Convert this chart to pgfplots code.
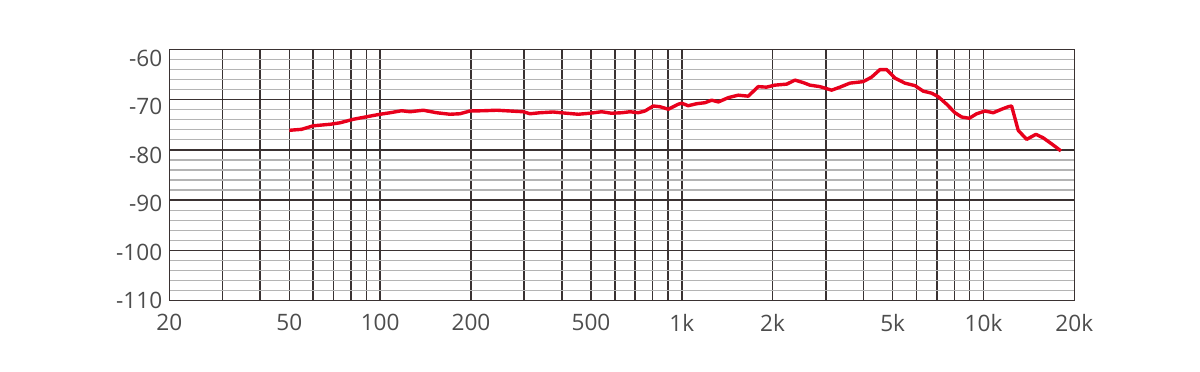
\documentclass[border=0pt]{standalone}
\usepackage{fontspec}
\setmainfont{Open Sans}
\usepackage{pgfplots}
\pgfplotsset{compat=1.18}
\usetikzlibrary{calc}
\definecolor{gridc}{HTML}{3A3232}
\definecolor{minc}{HTML}{B4B4B4}
\definecolor{txt}{HTML}{4D4D4D}
\definecolor{curve}{HTML}{E8001C}
\begin{document}
\begin{tikzpicture}
\begin{axis}[name=ax, scale only axis, width=452.5pt, height=125.5pt,
 xmode=log, xmin=20, xmax=20000, ymin=-110, ymax=-60,
 xtick={20,30,40,50,60,70,80,90,100,200,300,400,500,600,700,800,900,1000,2000,3000,4000,5000,6000,7000,8000,9000,10000,20000},
 xticklabels={20,,,50,,,,,100,200,,,500,,,,,1k,2k,,,5k,,,,,10k,20k},
 ytick={-110,-100,-90,-80,-70,-60},
 yticklabels={-110,-100,-90,-80,-70,-60},
 minor y tick num=4,
 xmajorgrids, ymajorgrids, yminorgrids,
 major grid style={gridc, line width=0.75pt},
 minor grid style={minc, line width=0.6pt},
 axis line style={gridc, line width=0.75pt},
 major tick length=0pt, minor tick length=0pt,
 tick label style={font=\fontsize{11.3}{13}\selectfont, text=txt},
 yticklabel style={yshift=-0.88pt*\ticknum},
 xticklabel style={yshift=-3.5pt},
 clip=false]
\addplot[curve, line width=1.7pt, line join=round] coordinates {
(50,-76.1) (54.9,-75.9) (60,-75.2) (68.2,-74.9) (73.6,-74.6) (81.5,-73.9)
(90.2,-73.4) (99.9,-72.9) (107.8,-72.6) (117.8,-72.2) (125.6,-72.4) (139,-72.1)
(153.9,-72.6) (170.4,-72.9) (183.9,-72.8) (198.5,-72.25) (219.7,-72.2) (243.4,-72.1)
(269.4,-72.25) (298,-72.4) (313.8,-72.8) (338.6,-72.6) (374,-72.45) (415,-72.7)
(453.7,-72.9) (496,-72.7) (542,-72.4) (585,-72.7) (632,-72.6) (673,-72.4)
(717,-72.6) (755,-72.25) (804,-71.25) (846,-71.4) (902,-71.9) (973,-70.9)
(999,-70.7) (1050,-71.2) (1120,-70.8) (1193,-70.6) (1256,-70.1) (1321,-70.45)
(1425,-69.6) (1538,-69.1) (1660,-69.3) (1792,-67.4) (1910,-67.5) (2035,-67.1)
(2226,-66.9) (2372,-66.1) (2527,-66.6) (2658,-67.1) (2870,-67.4) (3138,-68.1)
(3344,-67.5) (3608,-66.7) (3994,-66.4) (4258,-65.5) (4537,-64.0) (4775,-64.0)
(5087,-65.7) (5490,-66.7) (5926,-67.2) (6314,-68.3) (6730,-68.7) (7078,-69.4)
(7550,-70.9) (8044,-72.6) (8466,-73.45) (8970,-73.7) (9492,-72.8) (10110,-72.25)
(10770,-72.6) (11484,-71.9) (12078,-71.4) (12394,-71.25) (13034,-76.1) (13900,-77.9)
(14920,-76.9) (15772,-77.6) (16820,-78.8) (18056,-80.2)
};
\end{axis}
\pgfresetboundingbox
\path[use as bounding box] ($(ax.south west)+(-84.65pt,-35.65pt)$) rectangle ($(ax.north east)+(62.85pt,24.75pt)$);
\end{tikzpicture}
\end{document}
